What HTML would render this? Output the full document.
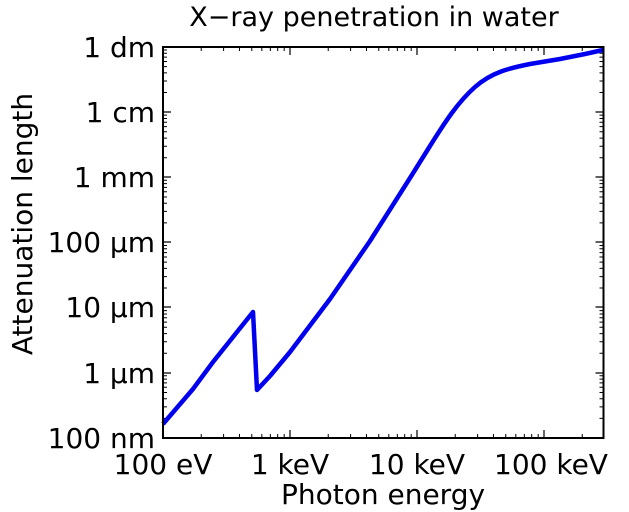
<!DOCTYPE html>
<html><head><meta charset="utf-8"><style>
html,body{margin:0;padding:0;background:#fff;}
svg{display:block;font-family:"DejaVu Sans","Liberation Sans",sans-serif;}
</style></head><body>
<svg width="629" height="512" viewBox="0 0 629 512" xmlns="http://www.w3.org/2000/svg">
<rect width="629" height="512" fill="#fff"/>
<text x="374" y="26" font-size="27" text-anchor="middle">X−ray penetration in water</text>
<g stroke="#000" stroke-width="1.2">
<path d="M163,438v-8M290,438v-8M417,438v-8M544,438v-8M163,47v8M290,47v8M417,47v8M544,47v8"/>
<path d="M163,438h8M163,373h8M163,307h8M163,242h8M163,177h8M163,112h8M163,47h8M603.5,438h-8M603.5,373h-8M603.5,307h-8M603.5,242h-8M603.5,177h-8M603.5,112h-8M603.5,47h-8"/>
</g>
<g stroke="#000" stroke-width="1" id="minor"></g>
<path d="M163,424 L193,389 L213,362 L253,312 L257,390 L270,376 L290,352 L330,299 L370,241 L410,178 L430,146 C445,122 458,102 475,87 C492,72 510,68 530,64 L560,59 L585,54 L603,50" fill="none" stroke="#0000ee" stroke-width="4.5" stroke-linejoin="round"/>
<rect x="163" y="47" width="440.5" height="391" fill="none" stroke="#000" stroke-width="2"/>
<g font-size="28" text-anchor="end">
<text x="155" y="448">100 nm</text>
<text x="155" y="383">1 µm</text>
<text x="155" y="317">10 µm</text>
<text x="155" y="252">100 µm</text>
<text x="155" y="187">1 mm</text>
<text x="155" y="122">1 cm</text>
<text x="155" y="57">1 dm</text>
</g>
<g font-size="28" text-anchor="middle">
<text x="163" y="474">100 eV</text>
<text x="290" y="474">1 keV</text>
<text x="417" y="474">10 keV</text>
<text x="551" y="474">100 keV</text>
<text x="383" y="504">Photon energy</text>
</g>
<text transform="translate(32,224) rotate(-90)" font-size="28" text-anchor="middle">Attenuation length</text>
<script>
var g=document.getElementById('minor'),d='';
var xs=[163,290,417,544];
for(var i=0;i<4;i++)for(var k=2;k<10;k++){var x=xs[i]+127*Math.log10(k);if(x>603)continue;d+='M'+x+',438v-4M'+x+',47v4';}
for(var j=0;j<6;j++)for(var k=2;k<10;k++){var y=438-65.17*j-65.17*Math.log10(k);d+='M163,'+y+'h4M603.5,'+y+'h-4';}
var p=document.createElementNS('http://www.w3.org/2000/svg','path');p.setAttribute('d',d);g.appendChild(p);
</script>
</svg>
</body></html>
